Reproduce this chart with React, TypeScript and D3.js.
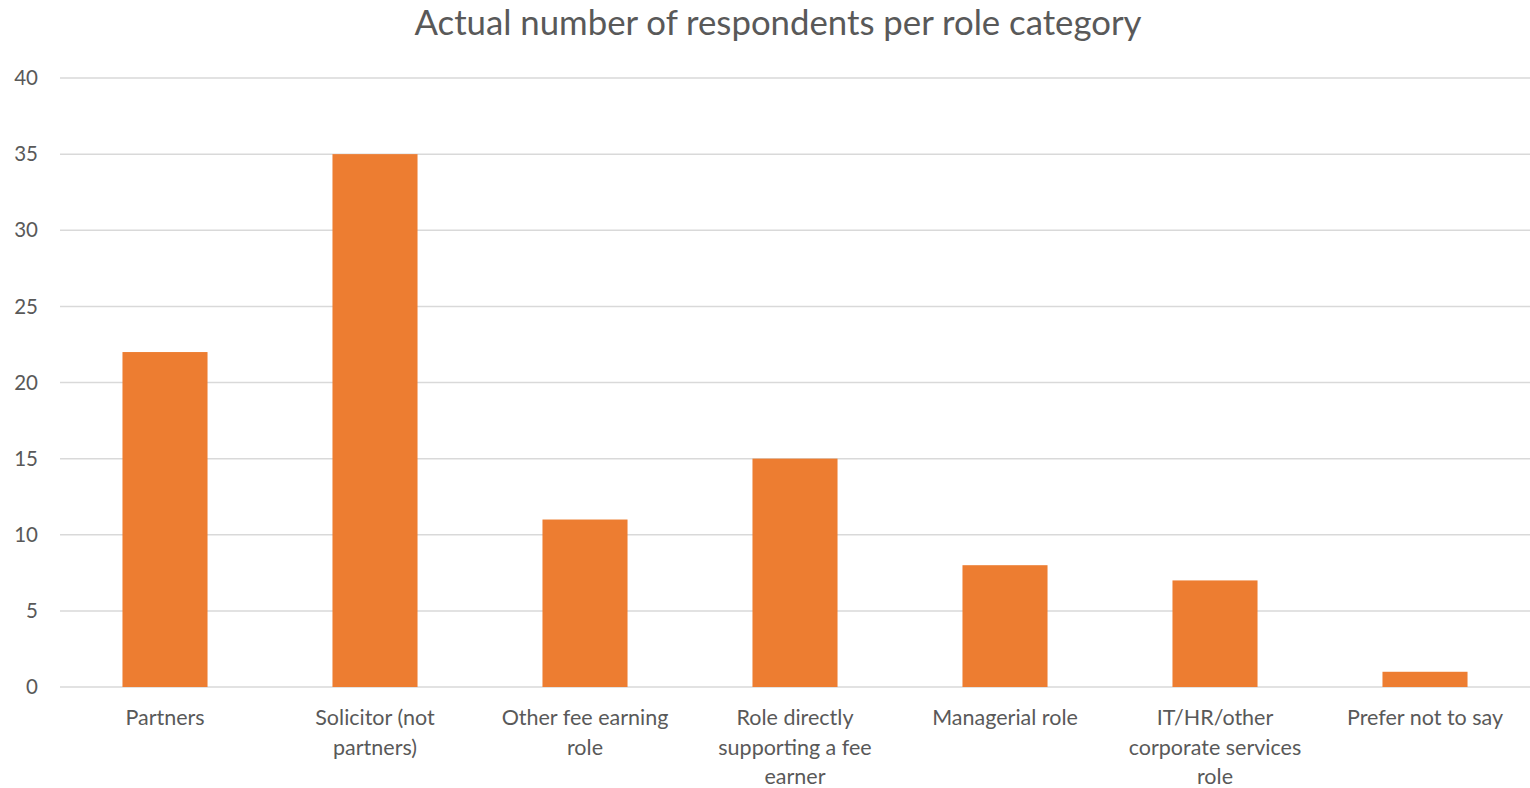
import React from "react";
import * as d3 from "d3";

const categories = [
  "Partners",
  "Solicitor (not partners)",
  "Other fee earning role",
  "Role directly supporting a fee earner",
  "Managerial role",
  "IT/HR/other corporate services role",
  "Prefer not to say",
];
const categoryLines = [
  ["Partners"],
  ["Solicitor (not", "partners)"],
  ["Other fee earning", "role"],
  ["Role directly", "supporting a fee", "earner"],
  ["Managerial role"],
  ["IT/HR/other", "corporate services", "role"],
  ["Prefer not to say"],
];
const values = [22, 35, 11, 15, 8, 7, 1];
const yTicks = [0, 5, 10, 15, 20, 25, 30, 35, 40];
const title = "Actual number of respondents per role category";

const W = 1530;
const H = 788;
const FONT = "Lato, 'Open Sans', sans-serif";
const TEXT = "#595959";

export default function App() {
  const x = d3.scaleBand<string>().domain(categories).range([60, 1530]).padding(0);
  const y = d3.scaleLinear().domain([0, 40]).range([687, 78]);
  const bw = x.bandwidth() * 0.405;

  return (
    <svg
      width={W}
      height={H}
      style={{ position: "absolute", left: 0, top: 0, background: "#fff" }}
      fontFamily={FONT}
    >
      <text x={778} y={35} textAnchor="middle" fontSize={34} fill={TEXT} textLength={727} lengthAdjust="spacingAndGlyphs">
        {title}
      </text>
      {yTicks.map((t) => (
        <g key={t}>
          <line x1={60} x2={1530} y1={y(t)} y2={y(t)} stroke="#d9d9d9" strokeWidth={1.5} />
          <text x={38} y={y(t)} dy="0.35em" textAnchor="end" fontSize={20.5} fill={TEXT}>
            {t}
          </text>
        </g>
      ))}
      {categories.map((c, i) => (
        <rect
          key={c}
          x={x(c)! + x.bandwidth() / 2 - bw / 2}
          y={y(values[i])}
          width={bw}
          height={y(0) - y(values[i])}
          fill="#ED7D31"
        />
      ))}
      {categories.map((c, i) => (
        <text key={c} textAnchor="middle" fontSize={21.5} fill={TEXT}>
          {categoryLines[i].map((l, j) => (
            <tspan key={j} x={x(c)! + x.bandwidth() / 2} y={725 + j * 29.5}>
              {l}
            </tspan>
          ))}
        </text>
      ))}
    </svg>
  );
}
